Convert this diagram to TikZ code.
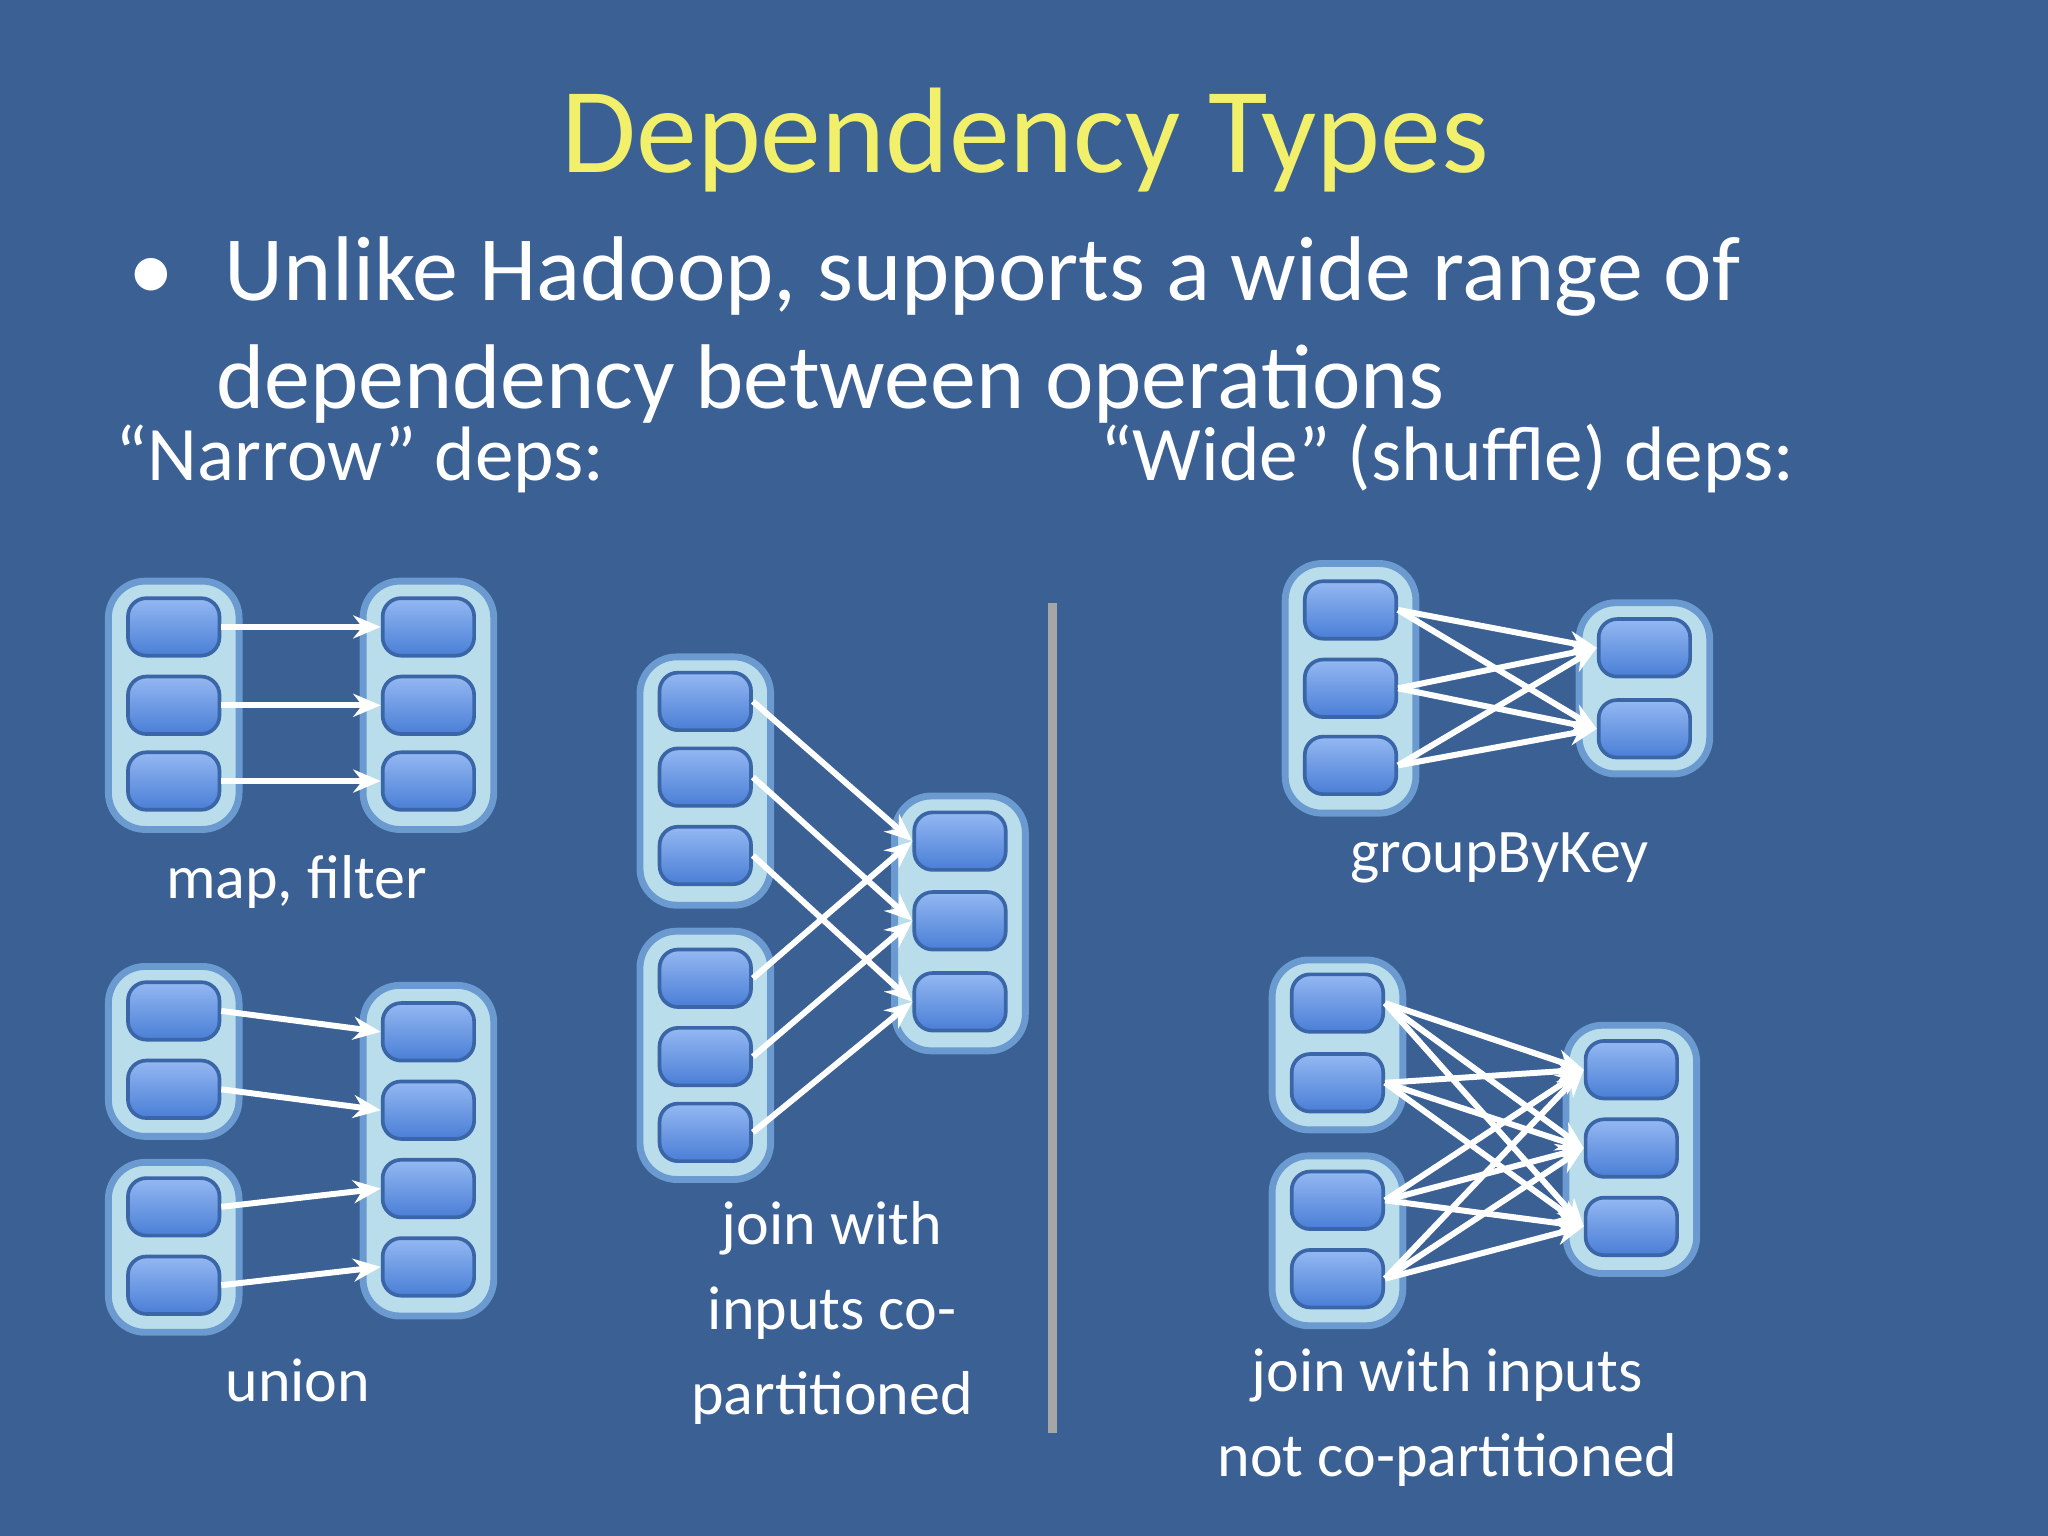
\documentclass[tikz,border=0pt]{standalone}
\usepackage{fontspec}
\setmainfont{Carlito}
\usetikzlibrary{arrows.meta}
\definecolor{bg}{HTML}{3A6094}
\definecolor{cont}{HTML}{B9DDEA}
\definecolor{contb}{HTML}{6A9AD0}
\definecolor{ptop}{HTML}{94B8F2}
\definecolor{pbot}{HTML}{4A7ED6}
\definecolor{pb}{HTML}{3A66A8}
\definecolor{ttl}{HTML}{F2F06A}
\tikzset{
 cnt/.style={draw=contb,line width=1.5pt,fill=cont,rounded corners=8pt,minimum width=1cm,inner sep=0pt},
 prt/.style={draw=pb,line width=0.8pt,top color=ptop,bottom color=pbot,rounded corners=4pt,minimum width=0.7cm,minimum height=0.44cm,inner sep=0pt},
 ar/.style={draw=white,line width=1.3pt,-{Stealth[length=6pt,width=5pt]}},
 lbl/.style={text=white,font=\fontsize{13.5pt}{16.5pt}\selectfont,align=center}
}
\begin{document}
\begin{tikzpicture}[x=0.01cm,y=-0.01cm]
\fill[bg] (0,0) rectangle (1568,1176);
\useasboundingbox (0,0) rectangle (1568,1176);
\node[text=ttl,font=\fontsize{26.5pt}{30pt}\selectfont] (title) at (785,107) {Dependency Types};
\node[text=white,font=\fontsize{20pt}{24pt}\selectfont,anchor=base west] (b1) at (86,230) {•\hspace{0.55em}Unlike Hadoop, supports a wide range of};
\node[text=white,font=\fontsize{20pt}{24pt}\selectfont,anchor=base west] (b2) at (153,313) {dependency between operations};
\node[text=white,font=\fontsize{16.8pt}{20pt}\selectfont,anchor=base west] (n) at (76,368) {“Narrow” deps:};
\node[text=white,font=\fontsize{16.8pt}{20pt}\selectfont,anchor=base west] (w) at (830,368) {“Wide” (shuffle) deps:};
% map filter
\node[cnt,minimum height=1.9cm] (mA) at (133,540) {};
\node[cnt,minimum height=1.9cm] (mB) at (328,540) {};
\foreach \i/\y in {1/480,2/540,3/598}{
 \node[prt] (ma\i) at (133,\y) {};
 \node[prt] (mb\i) at (328,\y) {};
 \draw[ar] (ma\i.east) -- (mb\i.west);}
\node[lbl] (lmf) at (227,675) {map, filter};
% union
\node[cnt,minimum height=1.3cm] (uA) at (133,805) {};
\node[cnt,minimum height=1.3cm] (uB) at (133,955) {};
\node[cnt,minimum height=2.53cm] (uC) at (328,881) {};
\foreach \i/\y in {1/774,2/834}{\node[prt] (ua\i) at (133,\y) {};}
\foreach \i/\y in {3/924,4/984}{\node[prt] (ua\i) at (133,\y) {};}
\foreach \i/\y in {1/790,2/850,3/910,4/970}{\node[prt] (uc\i) at (328,\y) {};}
\foreach \i in {1,2,3,4}{\draw[ar] (ua\i.east) -- (uc\i.west);}
\node[lbl] (lu) at (228,1057) {union};
% join co-partitioned
\node[cnt,minimum height=1.9cm] (jA) at (540,598) {};
\node[cnt,minimum height=1.9cm] (jB) at (540,808) {};
\node[cnt,minimum height=1.95cm] (jC) at (735,707) {};
\foreach \i/\y in {1/537,2/595,3/655}{\node[prt] (ja\i) at (540,\y) {};}
\foreach \i/\y in {1/749,2/809,3/867}{\node[prt] (jb\i) at (540,\y) {};}
\foreach \i/\y in {1/644,2/705,3/767}{\node[prt] (jc\i) at (735,\y) {};}
\foreach \i in {1,2,3}{\draw[ar] (ja\i.east) -- (jc\i.west); \draw[ar] (jb\i.east) -- (jc\i.west);}
\node[lbl] (lj) at (637,1005) {join with\\[2pt]inputs co-\\[2pt]partitioned};
% divider
\coordinate (d1) at (806,462); \coordinate (d2) at (806,1097);
\draw[gray!70,line width=2pt] (d1) -- (d2);
% groupByKey
\node[cnt,minimum height=1.91cm] (gA) at (1034,527) {};
\node[cnt,minimum height=1.31cm] (gB) at (1259,527) {};
\foreach \i/\y in {1/467,2/527,3/586}{\node[prt] (ga\i) at (1034,\y) {};}
\foreach \i/\y in {1/496,2/558}{\node[prt] (gb\i) at (1259,\y) {};}
\foreach \i in {1,2,3}{\foreach \j in {1,2}{\draw[ar] (ga\i.east) -- (gb\j.west);}}
\node[lbl] (lg) at (1148,657) {groupByKey};
% join not co-partitioned
\node[cnt,minimum height=1.3cm] (kA) at (1024,800) {};
\node[cnt,minimum height=1.3cm] (kB) at (1024,950) {};
\node[cnt,minimum height=1.9cm] (kC) at (1249,880) {};
\foreach \i/\y in {1/768,2/829,3/919,4/979}{\node[prt] (ka\i) at (1024,\y) {};}
\foreach \i/\y in {1/819,2/879,3/939}{\node[prt] (kc\i) at (1249,\y) {};}
\foreach \i in {1,2,3,4}{\foreach \j in {1,2,3}{\draw[ar] (ka\i.east) -- (kc\j.west);}}
\node[lbl] (lk) at (1108,1085) {join with inputs\\[2pt]not co-partitioned};
\end{tikzpicture}
\end{document}
